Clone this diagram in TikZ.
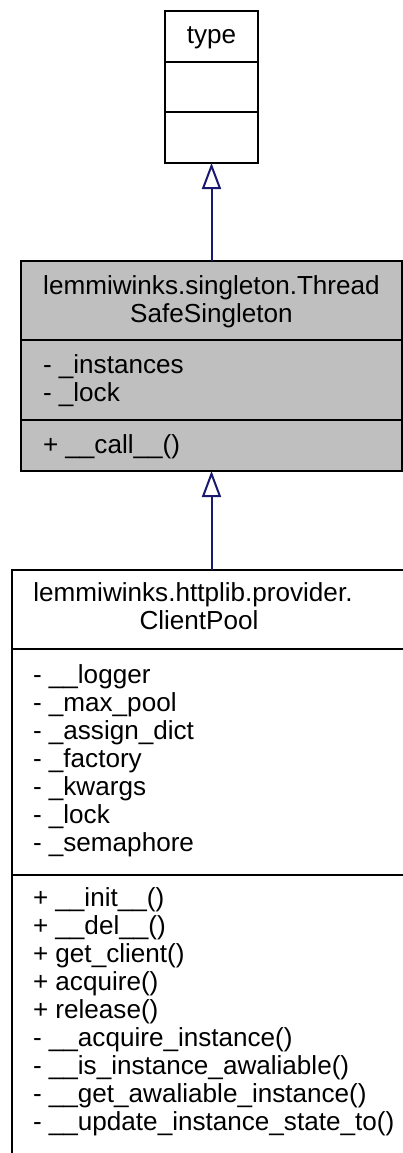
\documentclass[tikz,border=0pt]{standalone}
\usepackage{fontspec}
\setmainfont{Liberation Sans}
\usetikzlibrary{arrows.meta}
\definecolor{edgeblue}{HTML}{191970}
\definecolor{classgray}{HTML}{BFBFBF}
\begin{document}
\begin{tikzpicture}[x=1pt,y=-1pt,
  box/.style={draw=black, line width=2pt, inner sep=0pt, outer sep=0pt},
  sep/.style={draw=black, line width=2pt},
  txt/.style={font=\fontsize{26.1}{28}\selectfont, inner sep=0pt, outer sep=0pt},
  mem/.style={txt, anchor=base west},
  ttl/.style={txt, anchor=base},
  inh/.style={draw=edgeblue, line width=2pt, -{Triangle[open, length=26pt, width=19pt]}}]
\useasboundingbox (0,0) rectangle (403,1153);
\clip (0,0) rectangle (403,1153);
\fill[white] (0,0) rectangle (403,1153);

% type
\node[box, fill=white, minimum width=93pt, minimum height=152pt] (type) at (211.5,87) {};
\draw[sep] (165,62) -- (258,62);
\draw[sep] (165,112) -- (258,112);
\node[ttl] (typename) at (211.5,44) {type};

% ThreadSafeSingleton
\node[box, fill=classgray, minimum width=381pt, minimum height=210pt] (thread) at (211.5,366) {};
\draw[sep] (21,340) -- (402,340);
\draw[sep] (21,420) -- (402,420);
\node[ttl] (t1) at (211.5,294) {lemmiwinks.singleton.Thread};
\node[ttl] (t2) at (211.5,322) {SafeSingleton};
\node[mem] (ta1) at (43,373) {- \_instances};
\node[mem] (ta2) at (43,401) {- \_lock};
\node[mem] (tm1) at (43,453) {+ \_\_call\_\_()};

% ClientPool
\node[box, fill=white, minimum width=400pt, minimum height=600pt] (cp) at (211.5,870) {};
\draw[sep] (11.5,649) -- (411.5,649);
\draw[sep] (11.5,875) -- (411.5,875);
\node[ttl] (c1) at (193,601) {lemmiwinks.httplib.provider.};
\node[ttl] (c2) at (199,629) {ClientPool};
\node[mem] (ca1) at (33,683) {- \_\_logger};
\node[mem] (ca2) at (33,711) {- \_max\_pool};
\node[mem] (ca3) at (33,739) {- \_assign\_dict};
\node[mem] (ca4) at (33,767) {- \_factory};
\node[mem] (ca5) at (33,795) {- \_kwargs};
\node[mem] (ca6) at (33,823) {- \_lock};
\node[mem] (ca7) at (33,851) {- \_semaphore};
\node[mem] (cm1) at (33,906) {+ \_\_init\_\_()};
\node[mem] (cm2) at (33,934) {+ \_\_del\_\_()};
\node[mem] (cm3) at (33,962) {+ get\_client()};
\node[mem] (cm4) at (33,990) {+ acquire()};
\node[mem] (cm5) at (33,1018) {+ release()};
\node[mem] (cm6) at (33,1046) {- \_\_acquire\_instance()};
\node[mem] (cm7) at (33,1074) {- \_\_is\_instance\_awaliable()};
\node[mem] (cm8) at (33,1102) {- \_\_get\_awaliable\_instance()};
\node[mem] (cm9) at (33,1130) {- \_\_update\_instance\_state\_to()};

% inheritance
\draw[inh] (thread) -- (type);
\draw[inh] (cp) -- (thread);
\end{tikzpicture}
\end{document}
